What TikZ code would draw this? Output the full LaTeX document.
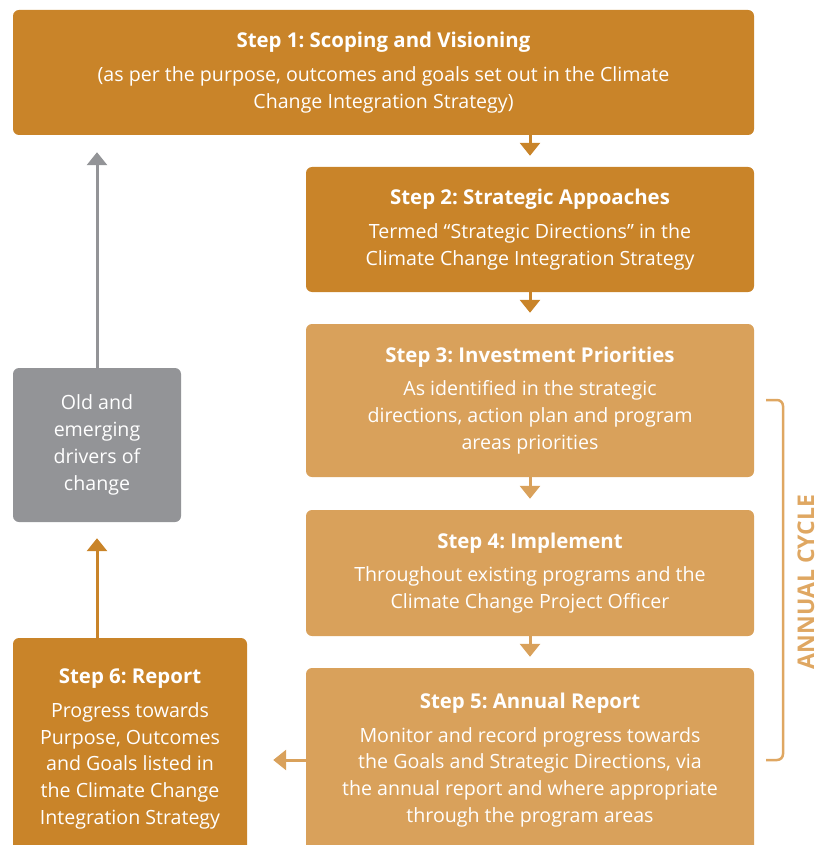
\documentclass[tikz,border=0pt]{standalone}
\usepackage{fontspec}
\setmainfont{Open Sans}
\usetikzlibrary{arrows.meta}
\frenchspacing

\definecolor{stepdark}{HTML}{C98429}
\definecolor{steplight}{HTML}{D9A15B}
\definecolor{driverGray}{HTML}{939497}
\definecolor{cycleOrange}{HTML}{DFA762}

\tikzset{
    stepbox/.style={rounded corners=6pt, text=white, align=center, inner sep=0pt,
        font=\fontsize{19.6}{26.8}\selectfont},
    darkbox/.style={stepbox, fill=stepdark},
    lightbox/.style={stepbox, fill=steplight},
    flowarrow/.style={line width=3pt, -{Triangle[width=20pt,length=13pt]}}
}
\newcommand{\steptitle}[1]{{\bfseries\fontsize{20.4}{26.8}\selectfont #1}\\[7pt]}

\begin{document}
\begin{tikzpicture}[x=1pt, y=-1pt]
    % Page frame
    \clip (0,0) rectangle (820,845);

    % Steps of the main column
    \node[darkbox, minimum width=741pt, minimum height=125pt] (s1) at (383.5,72.5)
        {\steptitle{Step 1: Scoping and Visioning}(as per the purpose, outcomes and goals set out in the Climate\\Change Integration Strategy)};
    \node[darkbox, minimum width=448pt, minimum height=125pt] (s2) at (530,229.5)
        {\steptitle{Step 2: Strategic Appoaches}Termed “Strategic Directions” in the\\Climate Change Integration Strategy};
    \node[lightbox, minimum width=448pt, minimum height=153pt] (s3) at (530,400.5)
        {\steptitle{Step 3: Investment Priorities}As identified in the strategic\\directions, action plan and program\\areas priorities};
    \node[lightbox, minimum width=448pt, minimum height=126pt] (s4) at (530,573)
        {\steptitle{Step 4: Implement}Throughout existing programs and the\\Climate Change Project Officer};
    \node[lightbox, minimum width=448pt, minimum height=184pt] (s5) at (530,760)
        {\steptitle{Step 5: Annual Report}Monitor and record progress towards\\the Goals and Strategic Directions, via\\the annual report and where appropriate\\through the program areas};

    % Left column
    \node[stepbox, fill=driverGray, minimum width=168pt, minimum height=154pt] (drv) at (97,445)
        {Old and\\emerging\\drivers of\\change};
    \node[darkbox, minimum width=234pt, minimum height=222pt] (s6) at (130,749)
        {\steptitle{Step 6: Report}Progress towards\\Purpose, Outcomes\\and Goals listed in\\the Climate Change\\Integration Strategy};

    % Arrows down the main column
    \draw[flowarrow, stepdark, shorten >=11pt] (s2.north |- s1.south) -- (s2.north);
    \draw[flowarrow, stepdark, shorten >=11pt] (s2.south) -- (s3.north);
    \draw[flowarrow, steplight, shorten >=11pt] (s3.south) -- (s4.north);
    \draw[flowarrow, steplight, shorten >=11pt] (s4.south) -- (s5.north);

    % Arrows round the left side
    \draw[flowarrow, steplight, shorten >=26pt] (s5.west) -- (s5.west -| s6.east);
    \draw[flowarrow, stepdark, shorten >=16pt] (s6.north -| drv.south) -- (drv.south);
    \draw[flowarrow, driverGray, shorten >=17pt] (drv.north) -- (drv.north |- s1.south);

    % Annual cycle bracket
    \draw[cycleOrange, line width=2.5pt, rounded corners=6pt]
        (766,400) -- (783,400) -- (783,760) -- (766,760);
    \node[rotate=90, text=cycleOrange, font=\bfseries\fontsize{23}{26}\selectfont] (cycle) at (806,582) {ANNUAL CYCLE};
\end{tikzpicture}
\end{document}
